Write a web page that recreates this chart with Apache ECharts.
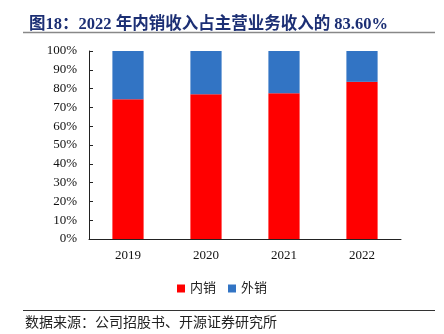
<!DOCTYPE html>
<html><head><meta charset="utf-8">
<script src="https://cdn.jsdelivr.net/npm/echarts@6/dist/echarts.min.js"></script>
<style>html,body{margin:0;padding:0;background:#fff}#c{width:444px;height:334px}</style>
</head><body><div id="c"></div>
<script>
const categories = ['2019', '2020', '2021', '2022'];
const domestic = [74.3, 77.0, 77.5, 83.6];
const overseas = [25.7, 23.0, 22.5, 16.4];
const yTicks = [0, 10, 20, 30, 40, 50, 60, 70, 80, 90, 100];

const serif = '"Liberation Serif","Times New Roman",serif';
const cjk = '"Liberation Serif","Noto Sans CJK SC",serif';
const chart = echarts.init(document.getElementById('c'));
chart.setOption({
  animation: false,
  backgroundColor: '#fff',
  title: {
    text: '图18：2022 年内销收入占主营业务收入的 83.60%',
    left: 24, top: 11,
    textStyle: { color: '#1c2f74', fontSize: 16.5, fontWeight: 'bold', fontFamily: cjk }
  },
  graphic: [
    { type: 'line', shape: { x1: 23, y1: 32.5, x2: 435, y2: 32.5 }, style: { stroke: '#888', lineWidth: 1.5 } },
    { type: 'line', shape: { x1: 23, y1: 310.5, x2: 435, y2: 310.5 }, style: { stroke: '#333', lineWidth: 1 } },
    { type: 'text', left: 25, top: 315, style: { text: '数据来源：公司招股书、开源证券研究所', fill: '#222', font: '14px "Noto Sans CJK SC", sans-serif' } }
  ],
  legend: {
    data: ['内销', '外销'],
    left: 'center', top: 277,
    itemWidth: 8, itemHeight: 8, itemGap: 12,
    icon: 'rect',
    textStyle: { color: '#222', fontSize: 13, fontFamily: cjk }
  },
  grid: { left: 89, right: 43, top: 51, bottom: 95, containLabel: false },
  xAxis: {
    type: 'category',
    data: categories,
    axisLine: { lineStyle: { color: '#222' } },
    axisTick: { inside: true, length: 4, lineStyle: { color: '#222' } },
    axisLabel: { color: '#111', fontSize: 13, fontFamily: serif, margin: 10 }
  },
  yAxis: {
    type: 'value', min: 0, max: 100, interval: 10,
    axisLine: { show: true, lineStyle: { color: '#222' } },
    axisTick: { show: true, inside: true, length: 4, lineStyle: { color: '#222' } },
    splitLine: { show: false },
    axisLabel: { color: '#111', fontSize: 13, fontFamily: serif, margin: 12,
      formatter: v => yTicks.includes(v) ? v + '%' : '' }
  },
  series: [
    { name: '内销', type: 'bar', stack: 'a', data: domestic, barWidth: '40%',
      itemStyle: { color: '#ff0000' } },
    { name: '外销', type: 'bar', stack: 'a', data: overseas, barWidth: '40%',
      itemStyle: { color: '#3274c4' } }
  ]
});
</script></body></html>
